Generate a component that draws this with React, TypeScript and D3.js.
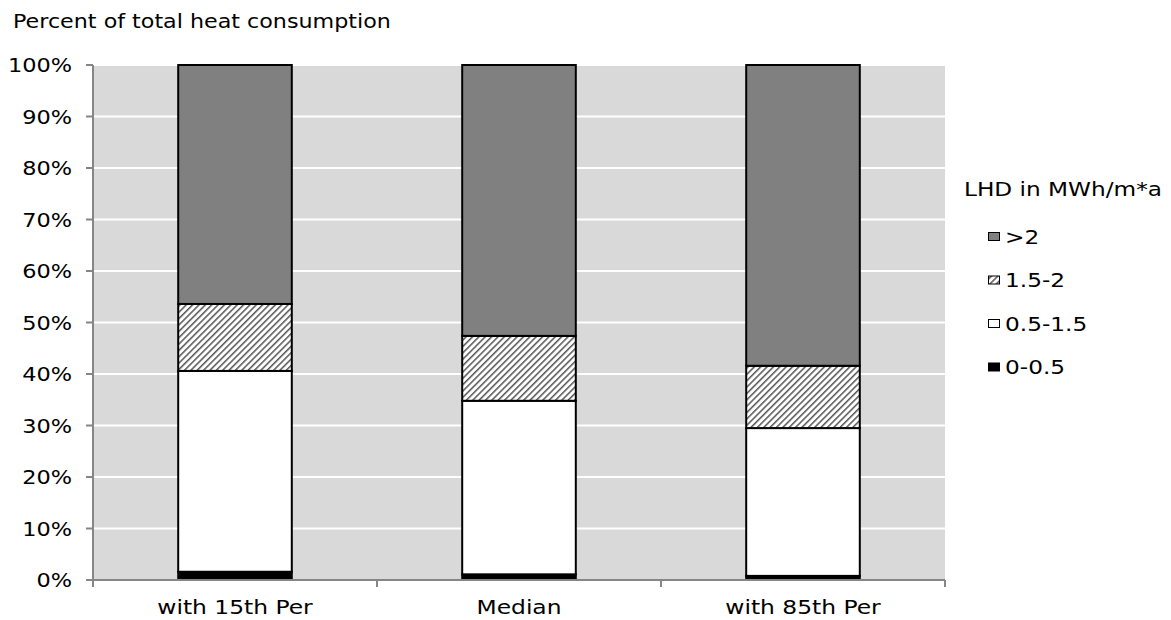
import React from "react";
import * as d3 from "d3";

const categories = ["with 15th Per", "Median", "with 85th Per"];
const seriesNames = ["0-0.5", "0.5-1.5", "1.5-2", ">2"];
const s00_05 = [1.6, 1.1, 0.8];
const s05_15 = [39.0, 33.7, 28.7];
const s15_2 = [13.0, 12.6, 12.1];
const sGt2 = [46.4, 52.6, 58.4];
const yTicks = [0, 10, 20, 30, 40, 50, 60, 70, 80, 90, 100];
const legendOrder = [">2", "1.5-2", "0.5-1.5", "0-0.5"];

const FONT = "DejaVu Sans";
const W = 1171, H = 620;
const M = { left: 93, right: 945, top: 65, bottom: 580 };

function T({ x, y, sx, anchor = "start", dy = "0", children }: any) {
  return (
    <text transform={`translate(${x},${y}) scale(${sx},1)`} textAnchor={anchor} dy={dy} fontSize={19.5} fill="#000">
      {children}
    </text>
  );
}

export default function App() {
  const x = d3.scaleBand<string>().domain(categories).range([M.left, M.right]).paddingInner(0.6).paddingOuter(0.3);
  const xb = d3.scaleBand<string>().domain(categories).range([M.left, M.right]);
  const y = d3.scaleLinear().domain([0, 100]).range([M.bottom, M.top]);
  const table = categories.map((c, i) => ({ cat: c, "0-0.5": s00_05[i], "0.5-1.5": s05_15[i], "1.5-2": s15_2[i], ">2": sGt2[i] }));
  const stack = d3.stack<any>().keys(seriesNames)(table);
  const fills: Record<string, string> = { "0-0.5": "#000000", "0.5-1.5": "#ffffff", "1.5-2": "url(#hatch)", ">2": "#808080" };
  return (
    <svg width={W} height={H} style={{ position: "absolute", left: 0, top: 0, display: "block" }} fontFamily={FONT}>
      <defs>
        <pattern id="hatch" patternUnits="userSpaceOnUse" width="4.5" height="4.5" patternTransform="rotate(45)">
          <rect width="4.5" height="4.5" fill="#fff" />
          <rect x="0" y="0" width="1.5" height="4.5" fill="#555" />
        </pattern>
      </defs>
      <rect width={W} height={H} fill="#fff" />
      <T x={13} y={28} sx={1.14}>Percent of total heat consumption</T>
      <rect x={M.left} y={M.top} width={M.right - M.left} height={M.bottom - M.top} fill="#d9d9d9" />
      {yTicks.filter(t => t > 0).map(t => (
        <line key={t} x1={M.left} x2={M.right} y1={y(t)} y2={y(t)} stroke="#fff" strokeWidth={2} />
      ))}
      {stack.map(layer => layer.map((d, i) => (
        <rect key={layer.key + i} x={x(categories[i])!} width={x.bandwidth()} y={y(d[1])} height={y(d[0]) - y(d[1])}
          fill={fills[layer.key as string]} stroke="#000" strokeWidth={2} />
      )))}
      <line x1={M.left} x2={M.left} y1={M.top} y2={M.bottom} stroke="#868686" strokeWidth={2} />
      <line x1={M.left - 7} x2={M.right} y1={M.bottom} y2={M.bottom} stroke="#868686" strokeWidth={2} />
      {yTicks.map(t => (
        <g key={t}>
          <line x1={M.left - 7} x2={M.left} y1={y(t)} y2={y(t)} stroke="#868686" strokeWidth={2} />
          <T x={72} y={y(t)} sx={1.15} anchor="end" dy="0.36em">{t}%</T>
        </g>
      ))}
      {[...categories.map(c => xb(c)!), M.right].map((v, i) => (
        <line key={i} x1={v} x2={v} y1={M.bottom} y2={M.bottom + 7} stroke="#868686" strokeWidth={2} />
      ))}
      {categories.map(c => (
        <T key={c} x={x(c)! + x.bandwidth() / 2} y={614} sx={1.2} anchor="middle">{c}</T>
      ))}
      <T x={964} y={196} sx={1.19}>LHD in MWh/m*a</T>
      {legendOrder.map((k, i) => (
        <g key={k}>
          <rect x={988.5} y={232.5 + i * 43.5} width={11} height={8} fill={fills[k]} stroke="#000" strokeWidth={1} />
          <T x={1005} y={236.5 + i * 43.5} sx={1.19} dy="0.36em">{k}</T>
        </g>
      ))}
    </svg>
  );
}
